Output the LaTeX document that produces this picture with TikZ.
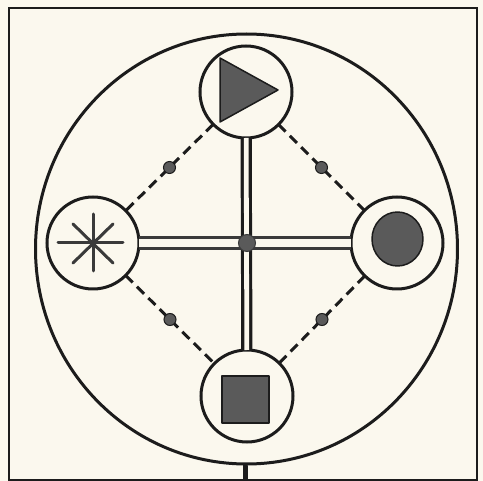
\documentclass[tikz,border=0pt]{standalone}
\usetikzlibrary{calc}
\definecolor{paper}{HTML}{FBF8EE}
\definecolor{ink}{HTML}{1C1C1C}
\definecolor{shade}{HTML}{5A5A5A}
\definecolor{hline}{HTML}{3A3A3A}
\begin{document}
\begin{tikzpicture}[x=1pt,y=-1pt,
  station/.style={circle,draw=ink,line width=3pt,minimum size=92pt,inner sep=0pt,outer sep=0pt},
  linkdash/.style={draw=ink,line width=3pt,dash pattern=on 10pt off 6pt},
  pathdot/.style={circle,fill=shade,draw=ink,line width=1pt,minimum size=12pt,inner sep=0pt},
  hubdot/.style={circle,fill=shade,draw=hline,line width=1pt,minimum size=17pt,inner sep=0pt},
  glyph/.style={fill=shade,draw=ink,line width=1.5pt,line join=round}]
\fill[paper] (0,0) rectangle (483,481);
\useasboundingbox (0,0) rectangle (483,481);
\draw[ink,line width=2.6pt] (9,8) rectangle (477,480);
\draw[ink,line width=3pt] (246.5,249) ellipse [x radius=211,y radius=215];
% stations
\node[station] (top) at (246,92) {};
\node[station] (left) at (93,243) {};
\node[station] (right) at (397,243) {};
\node[station] (bottom) at (247,396) {};
% dashed links with dots
\draw[linkdash] (top) -- (left) node[pathdot,midway,solid] (d1) {};
\draw[linkdash] (top) -- (right) node[pathdot,midway,solid] (d2) {};
\draw[linkdash] (left) -- (bottom) node[pathdot,midway,solid] (d3) {};
\draw[linkdash] (right) -- (bottom) node[pathdot,midway,solid] (d4) {};
% double lines
\draw[hline,line width=3pt,double=paper,double distance=8.6pt] (left) -- (right);
\draw[ink,line width=3.2pt,double=paper,double distance=4.8pt] (top) -- (bottom);
\node[hubdot] (hub) at (247,243) {};
% glyphs
\begin{scope}[shift={(top.center)}]
  \filldraw[glyph] (-26,-34) -- (-26,30) -- (32,-2) -- cycle;
\end{scope}
\begin{scope}[shift={(left.center)},line cap=round]
  \draw[hline,line width=3pt] (-35,0) -- (30,0);
  \draw[hline,line width=3pt] (0,-29) -- (0,28);
  \draw[hline,line width=3pt] (-20,-19) -- (20,20);
  \draw[hline,line width=3pt] (-20,20) -- (20,-19);
\end{scope}
\begin{scope}[shift={(right.center)}]
  \filldraw[glyph] (0.5,-4) ellipse [x radius=25.5,y radius=27];
\end{scope}
\begin{scope}[shift={(bottom.center)}]
  \filldraw[glyph] (-25,-20) rectangle (22,27);
\end{scope}
% tick at bottom
\draw[ink,line width=5pt,line cap=round] (245,466) -- (245,480);
\end{tikzpicture}
\end{document}
